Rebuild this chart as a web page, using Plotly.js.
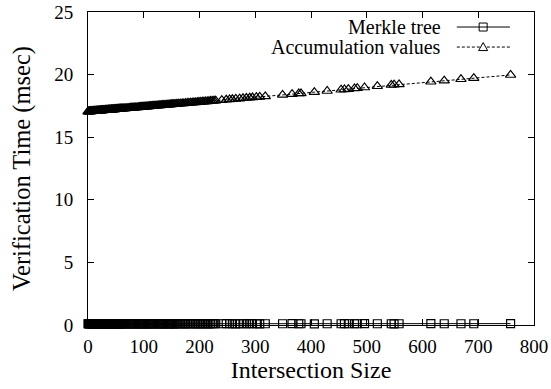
<!DOCTYPE html>
<html>
<head>
<meta charset="utf-8">
<script src="https://cdn.plot.ly/plotly-3.0.1.min.js"></script>
<style>html,body{margin:0;padding:0;background:#fff;}#chart{width:551px;height:389px;}</style>
</head>
<body>
<div id="chart"></div>
<script>
var intersectionSize = [
  0,1,2,3,4,5,6,7,8,9,10,11,12,13,14,15,16,17,18,19,20,21,22,23,24,25,26,27,28,29,30,
  31,32,33,34,35,36,37,38,39,40,41,42,43,44,45,46,47,48,49,50,51,52,53,54,55,56,57,58,59,60,
  62,64,66,68,70,72,74,76,78,80,82,84,86,88,90,92,94,96,98,100,
  102,104,106,108,110,112,114,116,118,120,122,124,126,128,130,132,134,136,138,140,
  142,144,146,148,150,152,154,156,158,160,
  163,166,169,172,175,178,181,184,187,190,193,196,199,202,205,208,211,214,217,220,223,226,229,
  240,248,254,259,265,272,278,284,290,295,302,308,318,349,366,378,382,406,429,454,460,467,478,483,496,519,544,549,558,615,639,669,692,758];
var merkleTime = [
  0.10,0.09,0.10,0.11,0.10,0.10,0.09,0.10,0.11,0.10,0.10,0.10,0.09,0.10,0.11,0.10,0.10,0.10,0.09,0.10,0.10,
  0.11,0.10,0.10,0.09,0.10,0.10,0.10,0.11,0.10,0.10,0.09,0.10,0.10,0.10,0.11,0.10,0.10,0.09,0.10,0.10,
  0.10,0.10,0.11,0.10,0.10,0.09,0.10,0.10,0.11,0.10,0.10,0.09,0.10,0.10,0.10,0.11,0.10,0.10,0.09,0.10,
  0.10,0.10,0.11,0.10,0.10,0.09,0.10,0.10,0.10,0.11,0.10,0.10,0.09,0.10,0.10,0.11,0.10,0.10,0.09,0.10,
  0.10,0.11,0.10,0.10,0.09,0.10,0.10,0.11,0.10,0.10,0.10,0.11,0.10,0.10,0.09,0.10,0.10,0.10,0.11,0.10,
  0.10,0.09,0.10,0.10,0.11,0.10,0.10,0.09,0.10,0.10,
  0.10,0.11,0.10,0.10,0.09,0.10,0.10,0.10,0.11,0.10,0.10,0.09,0.10,0.10,0.11,0.10,0.10,0.09,0.10,0.10,0.11,0.10,0.10,
  0.10,0.11,0.10,0.10,0.09,0.10,0.10,0.10,0.11,0.10,0.10,0.09,0.10,0.10,0.11,0.10,0.10,0.09,0.10,0.10,0.11,0.10,0.10,0.10,0.11,0.10,0.10,0.09,0.10,0.11,0.10,0.10,0.10,0.11];
var accumulationTime = [
  17.05,17.05,17.06,17.06,17.07,17.07,17.07,17.08,17.08,17.08,17.09,17.09,17.10,17.10,17.10,17.11,17.11,17.11,17.12,17.12,17.13,
  17.13,17.13,17.14,17.14,17.15,17.15,17.15,17.16,17.16,17.16,17.17,17.17,17.18,17.18,17.18,17.19,17.19,17.19,17.20,
  17.20,17.21,17.21,17.21,17.22,17.22,17.22,17.23,17.23,17.24,17.24,17.24,17.25,17.25,17.26,17.26,17.26,17.27,17.27,17.27,17.28,
  17.29,17.29,17.30,17.31,17.32,17.32,17.33,17.34,17.35,17.35,17.36,17.37,17.38,17.38,17.39,17.40,17.41,17.41,17.42,17.43,
  17.44,17.45,17.45,17.46,17.47,17.48,17.48,17.49,17.50,17.51,17.51,17.52,17.53,17.54,17.54,17.55,17.56,17.57,17.57,17.58,
  17.59,17.60,17.60,17.61,17.62,17.63,17.64,17.64,17.65,17.66,
  17.67,17.68,17.69,17.70,17.72,17.73,17.74,17.75,17.76,17.77,17.78,17.79,17.81,17.82,17.83,17.84,17.85,17.86,17.87,17.89,17.90,17.91,17.92,
  17.96,17.99,18.02,18.03,18.06,18.08,18.11,18.13,18.15,18.17,18.20,18.22,18.26,18.38,18.44,18.49,18.50,18.60,18.69,18.79,18.81,18.84,18.89,18.91,18.97,19.07,19.17,19.19,19.22,19.43,19.52,19.63,19.72,19.97];
var seriesNames = ["Merkle tree", "Accumulation values"];
var xTickVals = [0,100,200,300,400,500,600,700,800];
var yTickVals = [0,5,10,15,20,25];

var font = "Liberation Serif";

var traces = [
  {x: intersectionSize, y: merkleTime, name: seriesNames[0], type: "scatter", mode: "lines+markers",
   line: {color: "#000", width: 1},
   marker: {symbol: "square-open", size: 8, color: "#000", line: {width: 1.2, color: "#000"}},
   showlegend: false, cliponaxis: false},
  {x: intersectionSize, y: accumulationTime, name: seriesNames[1], type: "scatter", mode: "lines+markers",
   line: {color: "#000", width: 1, dash: "3px,2px"},
   marker: {symbol: "triangle-up-open", size: 9, color: "#000", line: {width: 1.2, color: "#000"}},
   showlegend: false, cliponaxis: false}
];

var axisCommon = {
  showline: true, linecolor: "#000", linewidth: 1, mirror: "allticks",
  ticks: "inside", ticklen: 6, tickcolor: "#000", tickwidth: 1,
  showgrid: false, zeroline: false,
  tickfont: {family: font, size: 19, color: "#000"}
};

var layout = {
  width: 551, height: 389,
  margin: {l: 88, r: 17, t: 12, b: 64},
  paper_bgcolor: "#fff", plot_bgcolor: "#fff",
  showlegend: false,
  font: {family: font, color: "#000"},
  xaxis: Object.assign({}, axisCommon, {
    range: [0, 800], tickvals: xTickVals, ticktext: xTickVals.map(String),
    ticklabelstandoff: 4,
    title: {text: "Intersection Size", font: {family: font, size: 24, color: "#000"}, standoff: 2}
  }),
  yaxis: Object.assign({}, axisCommon, {
    range: [0, 25], tickvals: yTickVals, ticktext: yTickVals.map(String),
    ticklabelstandoff: 10,
    title: {text: "Verification Time (msec)", font: {family: font, size: 24.5, color: "#000"}, standoff: 16}
  }),
  annotations: [
    {xref: "paper", yref: "paper", x: 0.796, y: 0.952, xanchor: "right", yanchor: "middle",
     text: seriesNames[0], showarrow: false, font: {family: font, size: 20, color: "#000"}},
    {xref: "paper", yref: "paper", x: 0.796, y: 0.888, xanchor: "right", yanchor: "middle",
     text: seriesNames[1], showarrow: false, font: {family: font, size: 20, color: "#000"}}
  ],
  shapes: [
    {type: "line", xref: "paper", yref: "paper", x0: 0.827, x1: 0.946, y0: 0.952, y1: 0.952,
     line: {color: "#000", width: 1}},
    {type: "rect", xref: "paper", yref: "paper", xsizemode: "pixel", ysizemode: "pixel",
     xanchor: 0.886, yanchor: 0.952, x0: -4, x1: 4, y0: -4, y1: 4,
     line: {color: "#000", width: 1}, fillcolor: "rgba(0,0,0,0)"},
    {type: "line", xref: "paper", yref: "paper", x0: 0.827, x1: 0.946, y0: 0.888, y1: 0.888,
     line: {color: "#000", width: 1, dash: "3px,2px"}},
    {type: "path", xref: "paper", yref: "paper", xsizemode: "pixel", ysizemode: "pixel",
     xanchor: 0.886, yanchor: 0.888, path: "M -4.5 -3.5 L 4.5 -3.5 L 0 4.5 Z",
     line: {color: "#000", width: 1}, fillcolor: "#fff"}
  ]
};

Plotly.newPlot("chart", traces, layout, {displayModeBar: false, staticPlot: true});
</script>
</body>
</html>
